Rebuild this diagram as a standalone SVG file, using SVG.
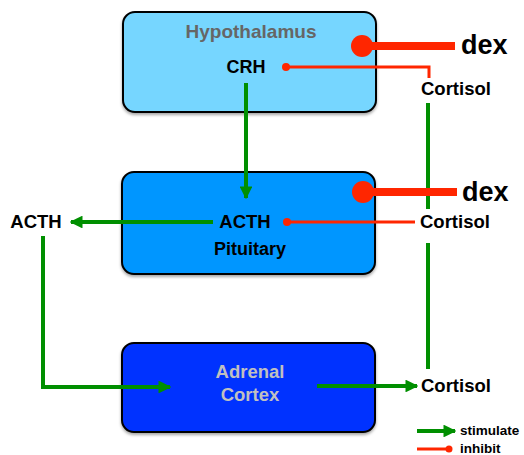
<svg xmlns="http://www.w3.org/2000/svg" width="524" height="455" viewBox="0 0 524 455">
  <defs>
    <filter id="shadow" x="-10%" y="-10%" width="120%" height="130%">
      <feDropShadow dx="0" dy="2" stdDeviation="1.5" flood-color="#000" flood-opacity="0.35"/>
    </filter>
    <marker id="arrow" viewBox="0 0 10 10" refX="9" refY="5" markerWidth="3.2" markerHeight="3.2" orient="auto" markerUnits="strokeWidth">
      <path d="M0,0 L10,5 L0,10 Z" fill="#008F00"/>
    </marker>
  </defs>
  <style>
    .box { stroke: #000; stroke-width: 2; filter: url(#shadow); }
    .t { font-family: "Liberation Sans", Arial, sans-serif; font-weight: bold; }
    .stim { fill: none; stroke: #008F00; stroke-width: 4; marker-end: url(#arrow); }
    .line { fill: none; stroke: #008F00; stroke-width: 4; }
    .inh { fill: none; stroke: #FF2600; stroke-width: 3; }
    .dex { fill: none; stroke: #FF2600; stroke-width: 8; }
    .red { fill: #FF2600; }
  </style>

  <g id="hypothalamus">
    <rect class="box" x="123" y="12" width="253" height="100" rx="12" fill="#76D6FF"/>
    <text class="t" x="251" y="38" font-size="19" fill="#666" text-anchor="middle">Hypothalamus</text>
    <text class="t" x="246" y="73" font-size="18" fill="#000" text-anchor="middle">CRH</text>
  </g>

  <g id="pituitary">
    <rect class="box" x="122" y="172" width="253" height="102" rx="12" fill="#0096FF"/>
    <text class="t" x="245" y="228" font-size="18.5" fill="#000" text-anchor="middle">ACTH</text>
    <text class="t" x="250" y="255" font-size="18" fill="#000" text-anchor="middle">Pituitary</text>
  </g>

  <g id="adrenal">
    <rect class="box" x="122" y="343" width="253" height="89" rx="12" fill="#0433FF"/>
    <text class="t" x="250" y="378" font-size="18.5" fill="#C0C0C0" text-anchor="middle">Adrenal</text>
    <text class="t" x="250" y="401" font-size="18.5" fill="#C0C0C0" text-anchor="middle">Cortex</text>
  </g>

  <g id="labels">
    <text class="t" x="421" y="95" font-size="18.5" fill="#000">Cortisol</text>
    <text class="t" x="420" y="228" font-size="18.5" fill="#000">Cortisol</text>
    <text class="t" x="421" y="392" font-size="18.5" fill="#000">Cortisol</text>
    <text class="t" x="36" y="228" font-size="18.5" fill="#000" text-anchor="middle">ACTH</text>
    <text class="t" x="461" y="54" font-size="27" fill="#000">dex</text>
    <text class="t" x="462" y="201" font-size="27" fill="#000">dex</text>
  </g>

  <g id="connectors">
    <!-- stimulation -->
    <line class="stim" x1="246" y1="83" x2="246" y2="198"/>
    <line class="stim" x1="213" y1="222" x2="71" y2="222"/>
    <polyline class="stim" points="43,236 43,387 170,387"/>
    <line class="stim" x1="317" y1="386" x2="417" y2="386"/>
    <line class="line" x1="428" y1="103" x2="428" y2="209"/>
    <line class="line" x1="428" y1="243" x2="428" y2="369"/>
    <!-- cortisol feedback -->
    <polyline class="inh" points="286,67 429,67 429,78"/>
    <circle class="red" cx="286" cy="67" r="4"/>
    <line class="inh" x1="287" y1="222" x2="415" y2="222"/>
    <circle class="red" cx="287" cy="222" r="4"/>
    <!-- dexamethasone -->
    <line class="dex" x1="362" y1="46" x2="455" y2="46"/>
    <circle class="red" cx="362" cy="46" r="11"/>
    <line class="dex" x1="363" y1="192" x2="457" y2="192"/>
    <circle class="red" cx="363" cy="192" r="11"/>
  </g>

  <g id="legend">
    <line class="stim" x1="417" y1="431" x2="455" y2="431"/>
    <text class="t" x="460" y="435" font-size="13.5" fill="#000">stimulate</text>
    <line class="inh" x1="417" y1="449" x2="449" y2="449" stroke-width="4"/>
    <circle class="red" cx="449" cy="449" r="3.5"/>
    <text class="t" x="460" y="453" font-size="13.5" fill="#000">inhibit</text>
  </g>
</svg>
